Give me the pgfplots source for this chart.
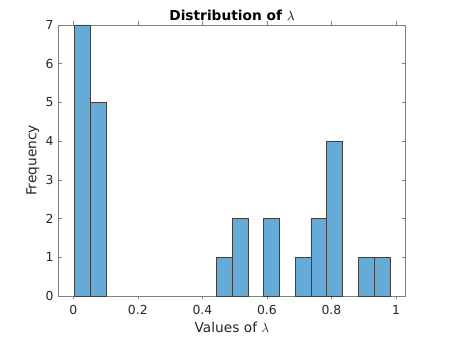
\documentclass[border=0pt]{standalone}
\usepackage{pgfplots}
\pgfplotsset{compat=1.18}
\usepackage{fontspec}
\setmainfont{DejaVu Sans}
\definecolor{barfill}{RGB}{102,170,215}
\definecolor{axgray}{RGB}{128,128,128}
\definecolor{txt}{RGB}{38,38,38}

\begin{document}
\begin{tikzpicture}[x=0.75pt,y=0.75pt]
% page = 449x336 px, axis box lower-left at (58.3,40) px from bottom-left
\path[use as bounding box] (-58.3,-40) rectangle (390.7,296);
\begin{axis}[
    at={(0,0)}, anchor=south west,
    scale only axis,
    width=260.5pt, height=203.3pt,
    xmin=-0.0465, xmax=1.03,
    ymin=0, ymax=7,
    xtick={0,0.2,0.4,0.6,0.8,1},
    xticklabels={0,0.2,0.4,0.6,0.8,1},
    ytick={0,1,...,7},
    tick align=inside,
    major tick length=2.6pt,
    axis line style={axgray, line width=0.4pt},
    every tick/.style={axgray, line width=0.4pt},
    tick label style={font=\fontsize{9.3}{10}\selectfont, text=txt},
    xticklabel style={yshift=-1pt},
    label style={font=\fontsize{10.3}{12}\selectfont, text=txt},
    xlabel={Values of $\lambda$},
    ylabel={Frequency},
    xlabel style={yshift=1.5pt},
    ylabel style={yshift=-2pt},
    title={\bfseries Distribution of $\lambda$},
    title style={font=\fontsize{10.3}{12}\selectfont, text=black, yshift=-6pt},
    /pgf/number format/assume math mode=true,
    ybar, bar width=0.0489, bar shift=0pt,
]
\addplot[fill=barfill, draw=black!75, line width=0.4pt] coordinates {
    (0.02745,7) (0.07635,5) (0.46755,1) (0.51645,2) (0.61425,2)
    (0.71205,1) (0.76095,2) (0.80985,4) (0.90765,1) (0.95655,1)
};
\end{axis}
\end{tikzpicture}
\end{document}
